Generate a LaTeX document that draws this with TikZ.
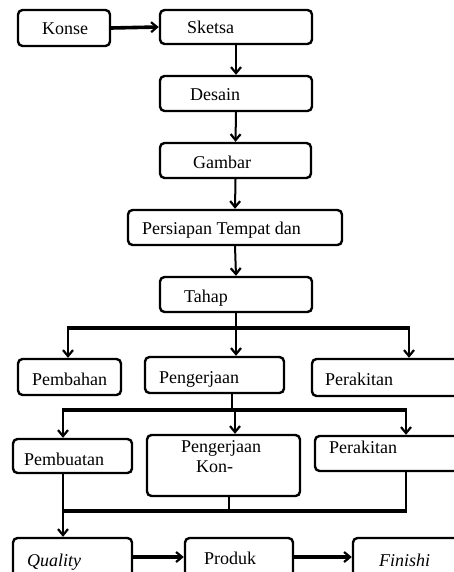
\documentclass[tikz,border=0pt]{standalone}
\usepackage{fontspec}
\setmainfont{Liberation Serif}
\usetikzlibrary{arrows.meta}
\begin{document}
\begin{tikzpicture}[x=1pt,y=-1pt,
  box/.style={draw,line width=2.4pt,rounded corners=4.5pt,inner sep=0pt},
  txt/.style={anchor=base west,inner sep=0pt,font=\fontsize{18}{20}\selectfont},
  tip/.style={-{Straight Barb[length=6pt,width=10pt,line width=2.2pt]}},
  arr/.style={line width=2pt,tip},
  harr/.style={line width=3.6pt,tip},
  ln/.style={line width=2pt},
  bar/.style={line width=4pt}]
\clip (0,0) rectangle (454,572);
\fill[white] (0,0) rectangle (454,572);
% boxes
\node[box,minimum width=92pt,minimum height=36pt] (konse) at (64,28) {};
\node[box,minimum width=152pt,minimum height=34pt] (sketsa) at (236,27) {};
\node[box,minimum width=152pt,minimum height=35pt] (desain) at (236,93.5) {};
\node[box,minimum width=151pt,minimum height=35pt] (gambar) at (235.5,160.5) {};
\node[box,minimum width=214pt,minimum height=35pt] (persiapan) at (235,227.5) {};
\node[box,minimum width=152pt,minimum height=35pt] (tahap) at (236,294.5) {};
\node[box,minimum width=103pt,minimum height=36pt] (pembahan) at (69.5,377) {};
\node[box,minimum width=139pt,minimum height=36pt] (pengeriaan) at (214.5,375) {};
\node[box,minimum width=160pt,minimum height=37pt] (perakitanA) at (392,377.5) {};
\node[box,minimum width=119pt,minimum height=34pt] (pembuatan) at (72.5,456) {};
\node[box,minimum width=153pt,minimum height=61pt] (pengkon) at (223.5,465.5) {};
\node[box,minimum width=160pt,minimum height=35pt] (perakitanB) at (395,453.5) {};
\node[box,minimum width=119pt,minimum height=50pt] (quality) at (72.5,563) {};
\node[box,minimum width=108pt,minimum height=50pt] (produk) at (239,563) {};
\node[box,minimum width=120pt,minimum height=50pt] (finishi) at (413,563) {};
% texts
\node[txt] (tkonse) at (42,35) {Konse};
\node[txt] (tsketsa) at (187,34) {Sketsa};
\node[txt] (tdesain) at (190,100.5) {Desain};
\node[txt] (tgambar) at (193,168) {Gambar};
\node[txt] (tpersiapan) at (142,234) {Persiapan Tempat dan};
\node[txt] (ttahap) at (184,302) {Tahap};
\node[txt] (tpembahan) at (32,385) {Pembahan};
\node[txt] (tpengeriaan) at (159,383) {Pengerjaan};
\node[txt] (tperakitanA) at (325,385) {Perakitan};
\node[txt] (tpembuatan) at (24,465) {Pembuatan};
\node[txt] (tpengkon1) at (181,452) {Pengerjaan};
\node[txt] (tpengkon2) at (196,472) {Kon-};
\node[txt] (tperakitanB) at (329,453) {Perakitan};
\node[txt] (tquality) at (27,566) {\itshape Quality};
\node[txt] (tproduk) at (204,564) {Produk};
\node[txt] (tfinishi) at (379,566) {\itshape Finishi};
% coordinates
\coordinate (b1L) at (68,328);
\coordinate (b1R) at (409,328);
\coordinate (b2L) at (63,410);
\coordinate (b2R) at (406,410);
\coordinate (b3L) at (63,511);
\coordinate (b3R) at (406,511);
% connectors
\draw[harr] (konse.east) -- (sketsa.west);
\draw[arr] (sketsa.south) -- (desain.north);
\draw[arr] (desain.south) -- (gambar.north);
\draw[arr] (gambar.south) -- (persiapan.north);
\draw[arr] (persiapan.south) -- (tahap.north);
\draw[ln] (tahap.south) -- (tahap.south |- b1L);
\draw[bar] ([xshift=-1pt]b1L) -- ([xshift=1pt]b1R);
\draw[arr] (b1L) -- (b1L |- pembahan.north);
\draw[arr] (tahap.south |- b1L) -- (tahap.south |- pengeriaan.north);
\draw[arr] (b1R) -- (b1R |- perakitanA.north);
\draw[ln] (232,393) coordinate (pgs) -- (pgs |- b2L);
\draw[bar] ([xshift=-1pt]b2L) -- ([xshift=1pt]b2R);
\draw[arr] (b2L) -- (b2L |- pembuatan.north);
\draw[arr] (235,410) coordinate (pgm) -- (pgm |- pengkon.north);
\draw[arr] (b2R) -- (b2R |- perakitanB.north);
\draw[ln] (pembuatan.south -| b3L) -- (b3L);
\draw[ln] (229,496) coordinate (pks) -- (pks |- b3L);
\draw[ln] (b3R |- perakitanB.south) -- (b3R);
\draw[bar] ([xshift=-1pt]b3L) -- ([xshift=1pt]b3R);
\draw[arr] (b3L) -- (b3L |- quality.north);
\draw[harr] (quality.east |- 0,557) -- (produk.west |- 0,557);
\draw[harr] (produk.east |- 0,557) -- (finishi.west |- 0,557);
\end{tikzpicture}
\end{document}
